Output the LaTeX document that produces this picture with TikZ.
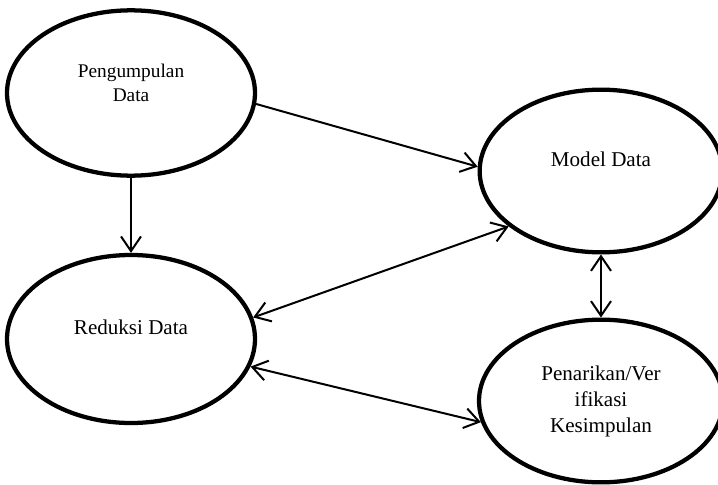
\documentclass[tikz,border=0pt]{standalone}
\usepackage{fontspec}
\setmainfont{Liberation Serif}
\usetikzlibrary{arrows.meta,positioning,shapes.geometric}

\begin{document}
\begin{tikzpicture}[
  x=0.75pt, y=-0.75pt,
  stage/.style={draw, ellipse, line width=3.2pt, inner sep=0pt},
  txt/.style  ={align=center, font=\fontsize{15.8}{19.5}\selectfont},
  flow/.style ={-{Straight Barb[length=11pt, width=15pt]}, line width=1.5pt},
  both/.style ={{Straight Barb[length=11pt, width=15pt]}-{Straight Barb[length=11pt, width=15pt]}, line width=1.5pt},
]
\useasboundingbox (0,0) rectangle (718,485);

% ======================= stages =======================
\node[stage, minimum width=186pt, minimum height=124pt] (kumpul) at (131, 93)  {};
\node[stage, minimum width=182pt, minimum height=122pt] (model)  at (601, 171) {};
\node[stage, minimum width=186pt, minimum height=126pt] (reduksi) at (131, 339) {};
\node[stage, minimum width=183pt, minimum height=122pt] (tarik)  at (601, 401) {};

% texts sit a little above the middle
\node[txt, font=\fontsize{14.5}{18}\selectfont] (kumpulT) at ([yshift=7.5pt]kumpul.center) {Pengumpulan\\Data};
\node[txt] (modelT)   at ([yshift=8.5pt]model.center)   {Model Data};
\node[txt] (reduksiT) at ([yshift=9pt]reduksi.center)   {Reduksi Data};
\node[txt] (tarikT)   at (tarik.center) {Penarikan/Ver\\ifikasi\\Kesimpulan};

% ======================= connectors =======================
\draw[flow] (kumpul.-5) -- (model.178);
\draw[flow] (kumpul.south) -- (reduksi.north);
\draw[both] (reduksi.10) -- (model.211);
\draw[both] (reduksi.-13) -- (tarik.190);
\draw[both] (model.south) -- (tarik.north);
\end{tikzpicture}
\end{document}
